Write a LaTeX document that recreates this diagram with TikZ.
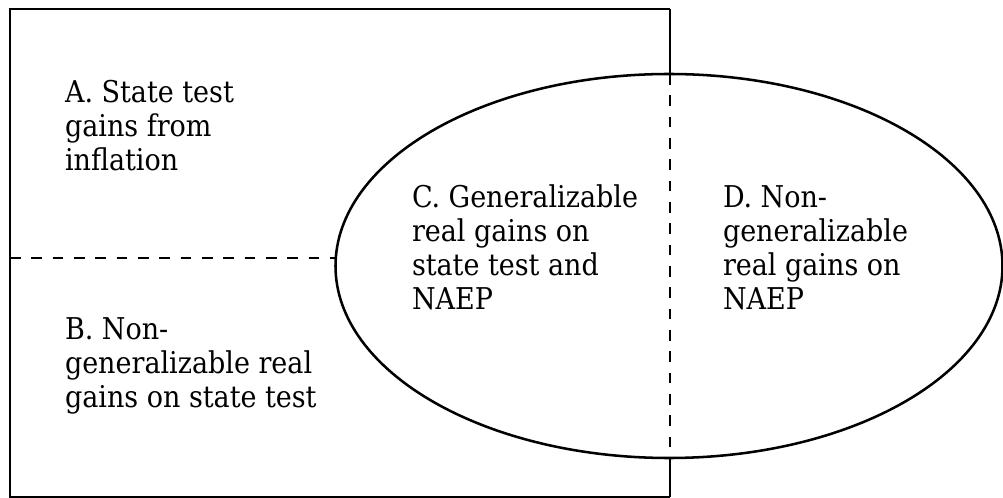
\documentclass[tikz,border=0pt]{standalone}
\usepackage{fontspec}
\setmainfont{DejaVu Serif Condensed}
\usetikzlibrary{shapes.geometric}
\newcommand{\stacklines}[1]{\vtop{\baselineskip=25.5pt\lineskiplimit=-100pt\lineskip=0pt #1}}
\tikzset{
  lbl/.style={anchor=base west, inner sep=0pt, outer sep=0pt, font=\fontsize{22.5pt}{25.5pt}\selectfont},
  thinline/.style={line width=0.9pt},
  thickline/.style={line width=1.9pt},
  dashline/.style={line width=2pt, dash pattern=on 8pt off 8pt},
}
\begin{document}
\begin{tikzpicture}[x=0.75pt,y=-0.75pt]
\useasboundingbox (0,0) rectangle (1003,498);
% rectangle
\coordinate (tl) at (10,9);
\coordinate (tr) at (670,9);
\coordinate (bl) at (10,497);
\coordinate (br) at (670,497);
\coordinate (et) at (670,74);
\coordinate (eb) at (670,458);
\coordinate (hl) at (10,258);
\coordinate (hr) at (335.3,258);
\draw[thinline] (tr) -- (tl) -- (bl) -- (br);
\draw[thickline] (tr) -- (et);
\draw[thickline] (eb) -- (br);
% ellipse
\node[draw, thickline, ellipse, minimum width=667*0.75pt, minimum height=384*0.75pt, inner sep=0pt] (ell) at (669,266) {};
% dashed lines
\draw[dashline] (hl) -- (hr);
\draw[dashline] (et) -- (eb);
% labels
\node[lbl] (A) at (65,103) {\stacklines{\hbox{A. State test}\hbox{gains from}\hbox{inflation}}};
\node[lbl] (B) at (65,340) {\stacklines{\hbox{B. Non-}\hbox{generalizable real}\hbox{gains on state test}}};
\node[lbl] (C) at (412,208) {\stacklines{\hbox{C. Generalizable}\hbox{real gains on}\hbox{state test and}\hbox{NAEP}}};
\node[lbl] (D) at (723,208) {\stacklines{\hbox{D. Non-}\hbox{generalizable}\hbox{real gains on}\hbox{NAEP}}};
\end{tikzpicture}
\end{document}
